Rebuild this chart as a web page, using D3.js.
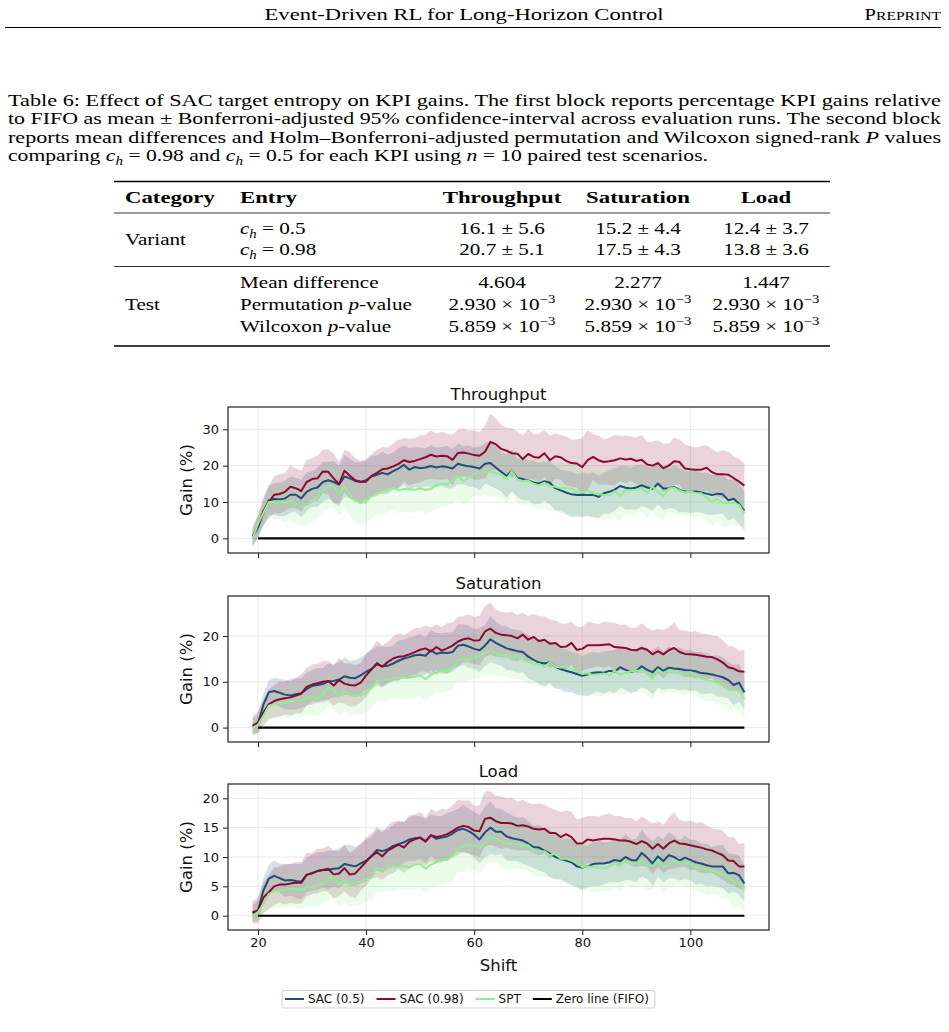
<!DOCTYPE html>
<html>
<head>
<meta charset="utf-8">
<script src="https://cdn.jsdelivr.net/npm/d3@7"></script>
<style>
  body { margin: 0; background: #fff; }
</style>
</head>
<body>
<script>
// ---------- data ----------
var shifts = [19, 20, 21, 22, 23, 24, 25, 26, 27, 28,
  29, 30, 31, 32, 33, 34, 35, 36, 37, 38,
  39, 40, 41, 42, 43, 44, 45, 46, 47, 48,
  49, 50, 51, 52, 53, 54, 55, 56, 57, 58,
  59, 60, 61, 62, 63, 64, 65, 66, 67, 68,
  69, 70, 71, 72, 73, 74, 75, 76, 77, 78,
  79, 80, 81, 82, 83, 84, 85, 86, 87, 88,
  89, 90, 91, 92, 93, 94, 95, 96, 97, 98,
  99, 100, 101, 102, 103, 104, 105, 106, 107, 108,
  109, 110];
var xTicks = [20, 40, 60, 80, 100];
var zeroShift = [20, 110];
var zeroGain = [0, 0];
var tpTicks = [0, 10, 20, 30];
var stTicks = [0, 10, 20];
var ldTicks = [0, 5, 10, 15, 20];
var seriesNames = ["SAC (0.5)", "SAC (0.98)", "SPT", "Zero line (FIFO)"];
var kpis = ["Throughput", "Saturation", "Load"];

// Throughput gain (%) : mean and CI half width
var tpSac05 = [0.4, 3, 7, 10.5, 10.8, 10.7, 11, 12, 12, 11,
  12.8, 13.6, 14, 15.5, 16, 15.5, 14.8, 17, 16.5, 15.8,
  15.5, 16, 17, 17.5, 18, 17.6, 18.5, 19.2, 20.2, 18.9,
  19.6, 19.3, 19.5, 19.9, 19.5, 19.8, 19.6, 19.2, 20.5, 20.1,
  19.8, 19.6, 19.2, 20.5, 20.7, 19.5, 18.3, 17.2, 18.6, 16.6,
  16.3, 15.9, 15.4, 15.1, 15.7, 15.3, 13.8, 13.2, 12.6, 12.1,
  11.9, 12, 11.9, 12, 11.4, 12.4, 12.8, 13.4, 14.4, 13.9,
  13.7, 14, 14.6, 14, 13.6, 15.1, 13.7, 13.8, 14.1, 13.3,
  12.9, 12.8, 12.9, 12.6, 12.3, 11.9, 12.3, 12.1, 10.5, 10.9,
  9.5, 7.6];
var tpSac05Ci = [2.3, 3, 3.5, 4, 4.4, 4.6, 4.9, 5, 4.7, 5.1,
  5.3, 4.9, 5.4, 5.5, 5.1, 5.7, 5.2, 5.8, 5.4, 5.1,
  5.5, 5.2, 5.7, 5.3, 5.8, 5.4, 5.2, 5.6, 5.3, 5.9,
  5.4, 5.7, 5.2, 5.8, 5.5, 5.3, 5.9, 5.4, 5.6, 5.2,
  5.7, 5.4, 6, 5.5, 6.3, 5.8, 5.5, 6, 5.6, 5.3,
  5.8, 5.5, 6, 5.6, 5.4, 5.9, 6.1, 5.7, 6, 6.2,
  5.8, 6.1, 5.7, 6.2, 5.9, 5.6, 6.1, 5.8, 5.5, 6,
  5.7, 6.1, 5.8, 5.6, 6.1, 5.7, 5.9, 5.5, 5.9, 6.1,
  5.6, 5.9, 5.7, 5.4, 5.8, 5.5, 5.7, 5.3, 5.6, 5.4,
  5.5, 5.2];
var tpSac098 = [0.5, 3.5, 7.5, 10, 12, 12.2, 12.8, 14.2, 13.8, 13,
  15.5, 16.3, 16.5, 18.4, 18.3, 16.5, 14.9, 18.6, 17.2, 16,
  15.6, 15.6, 17.2, 18, 19, 19.2, 19.8, 20.5, 21.5, 21,
  21.3, 21.8, 22.3, 23, 22.5, 22.7, 22.6, 21.6, 23.5, 23.6,
  23.3, 22.9, 22.7, 23.8, 26.5, 25.9, 24.6, 24.1, 23.4, 23.3,
  21.8, 23.2, 22.4, 22.2, 23.4, 21.5, 22.6, 22.3, 21.3, 20.7,
  20.6, 19.6, 21.5, 22.4, 21.5, 21, 21.2, 21.5, 22, 21.7,
  21.9, 21.3, 21.6, 20.3, 20, 20.7, 19.3, 20, 21.2, 21,
  19.2, 19, 18.9, 18.9, 19.4, 18.2, 17.6, 17.6, 17.5, 16.6,
  15.6, 14.5];
var tpSac098Ci = [2.6, 3, 3.8, 4.5, 5, 5.4, 5.2, 5.8, 5.5, 5.6,
  6, 5.7, 6.2, 5.9, 6.3, 6.8, 6.1, 5.8, 6.4, 6,
  5.7, 6.2, 5.9, 6.4, 6.1, 5.8, 6.3, 6.6, 6, 6.4,
  6.2, 6.5, 6.1, 6.7, 6.3, 6.6, 6.2, 6.9, 6.4, 6.6,
  6.3, 6.8, 6.5, 7.2, 7.8, 7.1, 6.6, 6.3, 6.8, 6.1,
  6.5, 6.9, 6.2, 6.6, 6.4, 6.8, 6.3, 6.1, 6.7, 6.5,
  6.6, 8, 8.3, 6.3, 6.7, 6.2, 6.5, 6.9, 6.3, 6.6,
  6.1, 6.4, 6.8, 6.2, 6.6, 6.3, 6.7, 6.1, 6.5, 6.2,
  6.6, 6.3, 6, 6.5, 6.2, 6.4, 6.1, 6.6, 6.3, 6,
  6.2, 6];
var tpSpt = [0, 4, 7, 10, 10, 10.2, 9.8, 10.3, 9.5, 8.7,
  9.2, 10, 11.5, 13, 14.5, 14.3, 12, 14.3, 12, 10.5,
  9.6, 10.4, 11.5, 12.5, 12.8, 13.2, 14, 13.2, 13.6, 13.5,
  13.4, 13.7, 13.3, 13.6, 14.7, 15, 14.9, 16, 17.2, 15.7,
  16.8, 17.8, 18.1, 18.3, 18.3, 18, 17.4, 16.3, 18.5, 16.2,
  15.8, 15.9, 15, 14.6, 15.3, 14.3, 14.2, 13.8, 13.9, 13.6,
  12.7, 12.6, 13, 12.4, 12.1, 11.9, 11.8, 13, 11.6, 13.3,
  13.2, 13.3, 13.9, 12.4, 14.2, 12.8, 11.6, 13.7, 13.9, 13.2,
  12.6, 12.9, 12.4, 12.4, 11.2, 10, 10.9, 9.7, 9.7, 9.8,
  9.2, 6.9];
var tpSptCi = [2.2, 3, 3.6, 4.2, 4.6, 5, 5.3, 5.1, 5.6, 5.4,
  5.8, 5.5, 6, 5.7, 6.2, 5.9, 5.6, 6.1, 5.8, 6.3,
  6, 5.7, 6.2, 5.9, 6.4, 6.1, 5.8, 6.3, 6, 6.5,
  6.2, 5.9, 6.4, 6.1, 6.6, 6.3, 6, 6.5, 6.2, 6.7,
  6.4, 6.1, 6.6, 6.3, 6.8, 6.5, 6.2, 6.7, 6.4, 6.9,
  6.6, 6.3, 6.8, 6.5, 7, 6.7, 6.4, 6.9, 6.6, 7.1,
  6.8, 6.5, 7, 6.7, 6.4, 6.9, 6.6, 7.1, 6.8, 6.5,
  7, 6.7, 6.4, 6.9, 6.6, 7.1, 6.8, 6.5, 7, 6.7,
  6.4, 6.9, 6.6, 6.3, 6.8, 6.5, 6.2, 6.7, 6.4, 6.1,
  5.6, 5];

// Saturation gain (%)
var stSac05 = [0.2, 0.9, 5, 7.7, 8, 7.6, 7.2, 7, 7.3, 7.5,
  8.4, 9.1, 9.3, 9.5, 10.1, 10.2, 10.5, 11.2, 10.9, 10.8,
  11.4, 12.2, 12.8, 13.8, 13.4, 13.5, 14, 14.6, 15.1, 15.4,
  15.8, 15.9, 15.7, 16.9, 16.1, 16.4, 16.3, 16.5, 17.9, 18.1,
  17.7, 17.2, 16.9, 17.9, 19.3, 18.5, 17.9, 17.3, 17, 16.7,
  16.5, 15.5, 14.8, 14.2, 14, 14.3, 13.3, 12.8, 12.4, 12.1,
  11.7, 11.3, 11.6, 12, 12.1, 12, 12.4, 12.2, 13.2, 12.6,
  12.2, 12.4, 13.4, 12.6, 12.1, 13.2, 12.4, 13.1, 12.9, 12.8,
  12.6, 12.5, 12.3, 11.9, 11.8, 11.6, 11.3, 11, 10.4, 9.3,
  9.8, 7.7];
var stSac05Ci = [1.6, 1.9, 2.4, 2.6, 2.9, 3, 3.2, 3.1, 3.4, 3.3,
  3.6, 3.4, 3.7, 3.5, 3.9, 3.6, 3.8, 4.1, 3.7, 3.9,
  4, 3.8, 4.2, 3.9, 4.3, 4.1, 3.9, 4.4, 4.1, 4.3,
  4.2, 4.5, 4.1, 4.4, 4.6, 4.2, 4.5, 4.3, 4.7, 4.4,
  4.6, 4.3, 4.8, 4.5, 5, 4.6, 4.4, 4.8, 4.5, 4.7,
  4.4, 4.8, 4.5, 4.7, 4.9, 4.6, 4.8, 4.5, 4.7, 4.4,
  4.6, 4.3, 4.7, 4.5, 4.2, 4.6, 4.4, 4.8, 4.5, 4.3,
  4.7, 4.4, 4.6, 4.3, 4.8, 4.5, 4.2, 4.6, 4.4, 4.7,
  4.3, 4.5, 4.2, 4.6, 4.4, 4.1, 4.5, 4.3, 4, 4.4,
  4.1, 3.8];
var stSac098 = [0.4, 1.1, 3.3, 5.1, 5.8, 6.2, 6.4, 6.6, 7, 7.4,
  8.9, 9.4, 9.7, 10, 10.2, 9.2, 10.4, 9.6, 9.3, 9.2,
  9.8, 11.4, 12.7, 14.1, 13.3, 14.3, 15.1, 15.5, 15.6, 16,
  16.5, 17, 17.3, 16.6, 17.6, 16.8, 17.3, 17.9, 18.8, 19.3,
  19.5, 19, 19.1, 21, 21.6, 20.7, 20.3, 20.2, 20, 19.5,
  20.3, 19.2, 19.8, 18.9, 19.2, 18.3, 18.5, 17.6, 17.7, 18.5,
  17, 17.2, 18, 18, 18, 18.1, 18.2, 17.6, 17.5, 17.4,
  17, 16.9, 17.4, 17, 16, 16.7, 16, 16.9, 17.4, 16.5,
  16.1, 16, 15.9, 15.7, 15.5, 15.4, 14.9, 14.2, 13.2, 12.9,
  12.3, 12.2];
var stSac098Ci = [2.1, 2.4, 2.8, 3.2, 3.5, 3.8, 3.6, 4, 3.9, 4.2,
  4.1, 4.4, 4.2, 4.6, 4.3, 4.5, 4.8, 4.4, 4.7, 4.5,
  4.3, 4.7, 4.5, 4.9, 4.6, 4.4, 4.8, 5.1, 4.7, 4.9,
  5.2, 4.8, 5, 5.3, 4.9, 5.2, 5.5, 5.1, 5.4, 5,
  5.3, 5.1, 5.4, 5.6, 5.7, 5.2, 5, 4.9, 5.3, 5.1,
  4.8, 5.2, 5, 5.4, 5.1, 5.3, 4.9, 5.2, 5, 4.7,
  5.1, 4.8, 5.2, 4.9, 4.6, 5, 4.8, 5.3, 4.9, 5.1,
  4.7, 5, 5.4, 4.8, 5.2, 4.9, 5.3, 5, 5.6, 4.8,
  5.1, 4.9, 5.2, 4.8, 5, 4.7, 5.1, 4.9, 4.6, 4.8,
  4.5, 4.8];
var stSpt = [0, 0.6, 2.6, 4.8, 5.1, 5.4, 5.5, 5.7, 6, 5.9,
  6.5, 6.6, 6.4, 7.2, 8.8, 8.4, 6.7, 8, 7, 6.9,
  7.1, 7.7, 8.8, 10.1, 10.3, 10.5, 10.8, 10.8, 10.9, 10.9,
  11.1, 11.4, 10.6, 11.5, 12.1, 12.4, 12.4, 13.1, 14.7, 14.9,
  14.9, 15.3, 15.7, 16.3, 16.8, 16.2, 15.7, 16, 15.3, 15.7,
  14.8, 14.4, 14, 13.9, 13.2, 14.3, 13.3, 13.1, 13.6, 12.8,
  12.3, 11.8, 11.8, 11.5, 11.6, 11.8, 11.4, 12.4, 11.6, 12,
  12.3, 12.4, 12.5, 11.8, 10.7, 12.7, 11.9, 12.5, 12.2, 12,
  11.6, 12.1, 11.4, 10.7, 10.4, 10.1, 9.7, 9.1, 8.2, 8.2,
  8.1, 6.2];
var stSptCi = [1.5, 1.9, 2.4, 2.8, 3.1, 3.4, 3.3, 3.6, 3.5, 3.8,
  3.7, 4, 3.8, 4.1, 3.9, 4.3, 4, 4.2, 4.5, 4.1,
  4.4, 4.2, 4.6, 4.3, 4.7, 4.4, 4.2, 4.6, 4.8, 4.5,
  4.7, 4.4, 4.9, 4.6, 4.3, 4.8, 4.5, 4.9, 4.6, 5,
  4.7, 4.5, 4.9, 4.6, 5.1, 4.8, 4.5, 4.9, 4.7, 5,
  4.6, 4.9, 4.5, 4.8, 4.6, 5, 4.7, 4.4, 4.8, 4.5,
  4.7, 4.4, 4.8, 4.5, 4.9, 4.6, 4.3, 4.7, 4.5, 4.8,
  4.4, 4.7, 4.5, 4.9, 4.6, 4.3, 4.8, 4.5, 4.7, 4.4,
  4.6, 4.3, 4.7, 4.4, 4.6, 4.2, 4.5, 4.3, 4.6, 4.2,
  4.4, 4.1];

// Load gain (%)
var ldSac05 = [0.4, 0.9, 4.3, 6.3, 6.8, 6.4, 6, 6.1, 5.9, 5.8,
  6.9, 7.3, 7.6, 7.8, 7.8, 8, 8.1, 8.8, 8.6, 8.4,
  8.9, 9.4, 10.1, 11.2, 11, 11.3, 11.9, 12.2, 12.5, 13,
  13.2, 13.3, 12.7, 13.7, 13.1, 13.3, 13.5, 14, 14.6, 14.8,
  14.4, 13.8, 13, 14.2, 15, 14.3, 14.3, 13.5, 13.2, 13,
  12.8, 12.3, 11.7, 11.6, 11.1, 10.6, 10, 9.7, 9.4, 9.1,
  8.4, 8.2, 8.4, 8.8, 8.9, 8.9, 9.1, 9.5, 9.3, 10,
  9.5, 9.4, 10.7, 9.9, 8.9, 10.1, 9.3, 10.3, 10, 9.4,
  9.9, 9.5, 9.1, 8.9, 8.6, 8.4, 8.4, 8.4, 7.2, 7.3,
  6.9, 5.5];
var ldSac05Ci = [1.4, 1.7, 2.1, 2.4, 2.6, 2.5, 2.8, 2.7, 2.9, 3,
  2.9, 3.1, 3.2, 3, 3.3, 3.1, 3.4, 3.2, 3.5, 3.3,
  3.4, 3.6, 3.3, 3.5, 3.7, 3.4, 3.6, 3.8, 3.5, 3.7,
  3.9, 3.6, 3.8, 3.5, 3.9, 3.7, 4, 3.8, 3.6, 4.1,
  3.8, 3.9, 4.1, 4.3, 4.5, 4, 3.8, 4.1, 3.9, 3.7,
  4, 3.8, 3.6, 3.9, 3.7, 4, 3.8, 3.5, 3.7, 3.9,
  3.6, 3.8, 3.5, 3.7, 3.9, 3.6, 3.4, 3.8, 3.6, 3.9,
  3.5, 3.7, 4, 3.6, 3.8, 3.5, 3.7, 3.9, 3.6, 3.4,
  3.7, 3.5, 3.8, 3.4, 3.6, 3.3, 3.5, 3.7, 3.4, 3.2,
  3.3, 3.1];
var ldSac098 = [0.6, 0.9, 3.1, 4, 5, 5.3, 5.3, 5.5, 5.6, 5.6,
  7, 7.2, 7.6, 7.8, 8, 7, 7.2, 8.1, 7, 7.2,
  8.2, 9.2, 10.2, 10.8, 10.1, 11.1, 11.6, 12.1, 11.6, 12.6,
  13, 13.3, 12.6, 13.7, 13.4, 13.6, 13.9, 14.4, 15, 15.3,
  15.1, 14.5, 14.4, 16.5, 16.7, 16.1, 15.8, 15.8, 15.7, 15.3,
  15.4, 15.2, 14.8, 14.7, 14.8, 14.1, 14.1, 13.4, 13.9, 13.4,
  12.3, 12.3, 13, 12.8, 13, 13.1, 13.1, 13, 12.8, 12.8,
  12.6, 12.2, 12.7, 12.3, 11.4, 12.2, 11.4, 12.3, 12.8, 12.3,
  12.2, 12, 11.8, 11.6, 11.3, 11.1, 10.7, 10.3, 9.4, 9.3,
  8.4, 8.4];
var ldSac098Ci = [1.9, 2.2, 2.6, 2.9, 3.2, 3.1, 3.4, 3.3, 3.6, 3.5,
  3.7, 3.5, 3.8, 3.6, 3.9, 4.1, 3.8, 4, 3.7, 4.2,
  3.9, 4.1, 3.8, 4.3, 4, 4.2, 4.4, 4.1, 4.3, 4.5,
  4.2, 4.4, 4.1, 4.5, 4.3, 4.6, 4.2, 4.4, 4.7, 4.3,
  4.5, 4.2, 4.4, 4.7, 4.6, 4.3, 4.5, 4.2, 4.4, 4.1,
  4.3, 4, 4.2, 4.4, 4.1, 4.3, 3.9, 4.2, 4, 4.3,
  4.1, 4.4, 4, 4.2, 3.9, 4.1, 4.3, 4, 4.2, 3.8,
  4.1, 3.9, 4.2, 4, 4.3, 3.9, 4.1, 4.4, 4.8, 4,
  3.9, 4.2, 4, 4.3, 4.1, 3.8, 4, 4.2, 3.9, 4.1,
  3.8, 4];
var ldSpt = [0, 0.6, 2, 3.7, 4.1, 4.3, 4.4, 4.6, 4.6, 4.3,
  5, 4.9, 5.1, 5.5, 6.3, 6.8, 5.3, 6.1, 5.1, 5.6,
  5.8, 6.2, 6.5, 8.1, 7.8, 8.2, 8.4, 8.4, 8.5, 8.2,
  8.7, 8.8, 8, 8.7, 9.1, 9.5, 9.5, 10.1, 11.4, 11.8,
  12.1, 11.9, 11.5, 12.6, 13.4, 13.1, 12.8, 12.3, 12.2, 12.3,
  11.8, 12, 11, 10.9, 11, 10.3, 10.6, 9.7, 9.7, 9.4,
  9, 8.3, 8.4, 8.3, 8.2, 8, 8.4, 8.9, 8.4, 9.5,
  8.8, 8.9, 9.4, 8.6, 8.4, 9.5, 8.3, 8.8, 9.4, 9.1,
  9, 8.8, 8.4, 8, 7.8, 7.7, 7.4, 6.9, 6.9, 5.7,
  5.6, 4.6];
var ldSptCi = [1.3, 1.6, 2, 2.4, 2.7, 2.9, 3.1, 3, 3.3, 3.2,
  3.5, 3.3, 3.6, 3.4, 3.8, 3.5, 3.7, 3.9, 3.6, 3.8,
  4, 3.7, 3.9, 4.1, 3.8, 4, 4.2, 3.9, 4.1, 3.8,
  4.2, 4, 4.3, 4.1, 3.9, 4.2, 4, 4.4, 4.1, 4.3,
  4, 4.2, 4.4, 4.1, 4.3, 4, 4.2, 4.5, 4.1, 4.3,
  4, 4.3, 4.1, 4.4, 4.2, 3.9, 4.1, 4.3, 4, 4.2,
  3.9, 4.2, 4, 4.3, 4.1, 3.8, 4.2, 4, 4.3, 3.9,
  4.1, 4.4, 4, 4.2, 3.9, 4.1, 4.3, 4, 4.2, 3.8,
  4.1, 3.9, 4.2, 4, 4.3, 4.1, 3.9, 4.2, 4, 4.3,
  4, 4.1];

// Table 6 values
var variantCh = ["0.5", "0.98"];
var ciMean05 = [16.1, 15.2, 12.4];
var ciHalf05 = [5.6, 4.4, 3.7];
var ciMean098 = [20.7, 17.5, 13.8];
var ciHalf098 = [5.1, 4.3, 3.6];
var meanDiff = [4.604, 2.277, 1.447];
var permP = [2.930e-3, 2.930e-3, 2.930e-3];
var wilcoxP = [5.859e-3, 5.859e-3, 5.859e-3];

// ---------- page ----------
var serif = "'Liberation Serif', 'Times New Roman', serif";
var sans = "'DejaVu Sans', sans-serif";
var colors = ["#1f4e79", "#8b0a32", "#90ee90", "#000000"];

var svg = d3.select("body").append("svg")
  .attr("width", 949)
  .attr("height", 1032);

// write text made of plain / italic / sub / sup pieces
function rich(sel, segs) {
  var shift = 0;
  segs.forEach(function(s) {
    var t = sel.append("tspan").text(s.t);
    if (s.it) t.style("font-style", "italic");
    var target = s.sub ? 4 : (s.sup ? -7 : 0);
    if (target !== shift) {
      t.attr("dy", target - shift);
      shift = target;
    }
    if (s.sub || s.sup) t.style("font-size", "0.7em");
  });
  return sel;
}

function widen(sel, k) {
  sel.each(function() {
    var w = this.getComputedTextLength();
    d3.select(this).attr("textLength", w * k).attr("lengthAdjust", "spacingAndGlyphs");
  });
}

// running head
svg.append("text")
  .attr("x", 464).attr("y", 20)
  .attr("text-anchor", "middle")
  .style("font-family", serif).style("font-size", "17px")
  .attr("textLength", 399).attr("lengthAdjust", "spacingAndGlyphs")
  .text("Event-Driven RL for Long-Horizon Control");
var pre = svg.append("text")
  .attr("x", 941).attr("y", 20)
  .attr("text-anchor", "end")
  .style("font-family", serif).style("font-size", "17px");
pre.append("tspan").text("P");
pre.append("tspan").style("font-size", "13px").text("REPRINT");
widen(pre, 1.2);
svg.append("line")
  .attr("x1", 5).attr("x2", 941)
  .attr("y1", 27.5).attr("y2", 27.5)
  .attr("stroke", "#000").attr("stroke-width", 1);

// caption
var captionLines = [
  [{t: "Table 6: Effect of SAC target entropy on KPI gains. The first block reports percentage KPI gains relative"}],
  [{t: "to FIFO as mean \u00b1 Bonferroni-adjusted 95% confidence-interval across evaluation runs. The second block"}],
  [{t: "reports mean differences and Holm\u2013Bonferroni-adjusted permutation and Wilcoxon signed-rank "}, {t: "P", it: 1}, {t: " values"}],
  [{t: "comparing "}, {t: "c", it: 1}, {t: "h", it: 1, sub: 1}, {t: " = 0.98 and "}, {t: "c", it: 1}, {t: "h", it: 1, sub: 1},
   {t: " = 0.5 for each KPI using "}, {t: "n", it: 1}, {t: " = 10 paired test scenarios."}]
];
var captionWidths = [933, 933, 933, 700];
captionLines.forEach(function(segs, i) {
  var t = svg.append("text")
    .attr("x", 8).attr("y", 106 + i * 18.4)
    .style("font-family", serif).style("font-size", "16.5px");
  rich(t, segs);
  t.attr("textLength", captionWidths[i]).attr("lengthAdjust", "spacingAndGlyphs");
});

// table
var tbl = svg.append("g").style("font-family", serif).style("font-size", "16.5px");
[[181.5, 1.4], [213, 0.8], [266.5, 0.8], [346, 1.4]].forEach(function(r) {
  tbl.append("line")
    .attr("x1", 114).attr("x2", 830)
    .attr("y1", r[0]).attr("y2", r[0])
    .attr("stroke", "#000").attr("stroke-width", r[1]);
});
var colX = [502, 638, 766];

function cell(x, y, segs, anchor, bold) {
  var t = tbl.append("text")
    .attr("x", x).attr("y", y)
    .attr("text-anchor", anchor || "start");
  if (bold) t.style("font-weight", "bold");
  rich(t, segs);
  widen(t, bold ? 1.38 : 1.28);
  return t;
}

cell(125, 203, [{t: "Category"}], "start", true);
cell(240, 203, [{t: "Entry"}], "start", true);
kpis.forEach(function(k, i) { cell(colX[i], 203, [{t: k}], "middle", true); });

var f1 = d3.format(".1f");
var f3 = d3.format(".3f");
function sci(p) {
  var e = Math.floor(Math.log10(p));
  return [{t: f3(p / Math.pow(10, e)) + " \u00d7 10"}, {t: "\u2212" + Math.abs(e), sup: 1}];
}

cell(125, 245, [{t: "Variant"}]);
cell(240, 234, [{t: "c", it: 1}, {t: "h", it: 1, sub: 1}, {t: " = " + variantCh[0]}]);
cell(240, 255, [{t: "c", it: 1}, {t: "h", it: 1, sub: 1}, {t: " = " + variantCh[1]}]);
kpis.forEach(function(k, i) {
  cell(colX[i], 234, [{t: f1(ciMean05[i]) + " \u00b1 " + f1(ciHalf05[i])}], "middle");
  cell(colX[i], 255, [{t: f1(ciMean098[i]) + " \u00b1 " + f1(ciHalf098[i])}], "middle");
});

cell(125, 310, [{t: "Test"}]);
cell(240, 288, [{t: "Mean difference"}]);
cell(240, 310, [{t: "Permutation "}, {t: "p", it: 1}, {t: "-value"}]);
cell(240, 332, [{t: "Wilcoxon "}, {t: "p", it: 1}, {t: "-value"}]);
kpis.forEach(function(k, i) {
  cell(colX[i], 288, [{t: f3(meanDiff[i])}], "middle");
  cell(colX[i], 310, sci(permP[i]), "middle");
  cell(colX[i], 332, sci(wilcoxP[i]), "middle");
});

// ---------- charts ----------
var panels = [
  {title: kpis[0], ticks: tpTicks, means: [tpSac05, tpSac098, tpSpt], cis: [tpSac05Ci, tpSac098Ci, tpSptCi]},
  {title: kpis[1], ticks: stTicks, means: [stSac05, stSac098, stSpt], cis: [stSac05Ci, stSac098Ci, stSptCi]},
  {title: kpis[2], ticks: ldTicks, means: [ldSac05, ldSac098, ldSpt], cis: [ldSac05Ci, ldSac098Ci, ldSptCi]}
];
var plotLeft = 228, plotRight = 769;
var panelTops = [407, 596, 784];
var panelH = 146;

function pad(ext) {
  var p = (ext[1] - ext[0]) * 0.05;
  return [ext[0] - p, ext[1] + p];
}

var x = d3.scaleLinear()
  .domain(pad(d3.extent(shifts)))
  .range([plotLeft, plotRight]);

panels.forEach(function(p, pi) {
  var top = panelTops[pi], bottom = top + panelH;
  var lo = 0, hi = 0;
  p.means.forEach(function(m, si) {
    m.forEach(function(v, j) {
      lo = Math.min(lo, v - p.cis[si][j]);
      hi = Math.max(hi, v + p.cis[si][j]);
    });
  });
  var y = d3.scaleLinear().domain(pad([lo, hi])).range([bottom, top]);
  var g = svg.append("g");

  // grid
  g.selectAll(".gx").data(xTicks).enter().append("line")
    .attr("x1", function(d) { return x(d); }).attr("x2", function(d) { return x(d); })
    .attr("y1", top).attr("y2", bottom)
    .attr("stroke", "#e6e6e6").attr("stroke-width", 0.9);
  g.selectAll(".gy").data(p.ticks).enter().append("line")
    .attr("x1", plotLeft).attr("x2", plotRight)
    .attr("y1", function(d) { return y(d); }).attr("y2", function(d) { return y(d); })
    .attr("stroke", "#e6e6e6").attr("stroke-width", 0.9);

  // confidence bands
  p.means.forEach(function(m, si) {
    var ci = p.cis[si];
    var area = d3.area()
      .x(function(d, j) { return x(shifts[j]); })
      .y0(function(d, j) { return y(d - ci[j]); })
      .y1(function(d, j) { return y(d + ci[j]); });
    g.append("path").datum(m)
      .attr("d", area)
      .attr("fill", colors[si]).attr("fill-opacity", 0.18);
  });

  // mean lines
  p.means.forEach(function(m, si) {
    var line = d3.line()
      .x(function(d, j) { return x(shifts[j]); })
      .y(function(d) { return y(d); });
    g.append("path").datum(m)
      .attr("d", line)
      .attr("fill", "none")
      .attr("stroke", colors[si]).attr("stroke-width", 2)
      .attr("stroke-linejoin", "round");
  });

  // FIFO zero line
  g.append("path").datum(zeroShift)
    .attr("d", d3.line()
      .x(function(d) { return x(d); })
      .y(function(d, j) { return y(zeroGain[j]); }))
    .attr("stroke", colors[3]).attr("stroke-width", 2.2);

  // frame
  g.append("rect")
    .attr("x", plotLeft).attr("y", top)
    .attr("width", plotRight - plotLeft).attr("height", panelH)
    .attr("fill", "none").attr("stroke", "#222").attr("stroke-width", 1.2);

  // axes
  var ya = g.append("g")
    .attr("transform", "translate(" + plotLeft + ",0)")
    .call(d3.axisLeft(y).tickValues(p.ticks).tickSize(5).tickPadding(4));
  var xa = g.append("g")
    .attr("transform", "translate(0," + bottom + ")")
    .call(d3.axisBottom(x).tickValues(xTicks).tickSize(5).tickPadding(3)
      .tickFormat(pi === 2 ? d3.format("d") : function() { return ""; }));
  [ya, xa].forEach(function(a) {
    a.select(".domain").remove();
    a.selectAll(".tick line").attr("stroke", "#222").attr("stroke-width", 1);
    a.selectAll(".tick text")
      .attr("fill", "#111")
      .style("font-family", sans).style("font-size", "13px");
  });

  // title and y label
  g.append("text")
    .attr("x", (plotLeft + plotRight) / 2).attr("y", top - 7)
    .attr("text-anchor", "middle")
    .style("font-family", sans).style("font-size", "16.5px")
    .attr("fill", "#111")
    .text(p.title);
  g.append("text")
    .attr("transform", "translate(192," + (top + panelH / 2) + ") rotate(-90)")
    .attr("text-anchor", "middle")
    .style("font-family", sans).style("font-size", "16.5px")
    .attr("fill", "#111")
    .text("Gain (%)");
});

svg.append("text")
  .attr("x", (plotLeft + plotRight) / 2).attr("y", 971)
  .attr("text-anchor", "middle")
  .style("font-family", sans).style("font-size", "16.5px")
  .attr("fill", "#111")
  .text("Shift");

// legend
var lg = svg.append("g");
var lx = 285;
var ly = 999;
seriesNames.forEach(function(name, i) {
  lg.append("line")
    .attr("x1", lx).attr("x2", lx + 19)
    .attr("y1", ly).attr("y2", ly)
    .attr("stroke", colors[i]).attr("stroke-width", 2);
  var t = lg.append("text")
    .attr("x", lx + 23).attr("y", ly + 4)
    .style("font-family", sans).style("font-size", "12px")
    .attr("fill", "#111")
    .text(name);
  lx += 23 + t.node().getComputedTextLength() + 12;
});
lg.insert("rect", ":first-child")
  .attr("x", 282).attr("y", 990.5)
  .attr("width", lx - 12 + 6 - 282).attr("height", 17.5)
  .attr("rx", 2)
  .attr("fill", "#fff").attr("stroke", "#cfcfcf").attr("stroke-width", 1);
</script>
</body>
</html>
